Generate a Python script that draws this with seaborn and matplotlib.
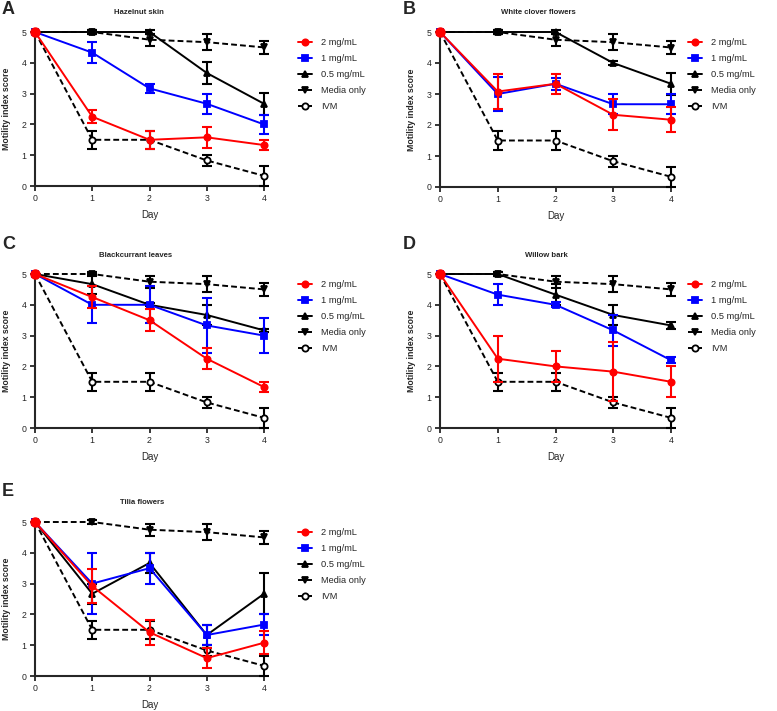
import pandas as pd
import seaborn as sns
import matplotlib.pyplot as plt

# %% DATA (mean motility score +/- error)

days = [0, 1, 2, 3, 4]
series_labels = ['2 mg/mL', '1 mg/mL', '0.5 mg/mL', 'Media only', 'IVM']
panel_letters = ['A', 'B', 'C', 'D', 'E']
panel_titles = ['Hazelnut skin', 'White clover flowers', 'Blackcurrant leaves',
                'Willow bark', 'Tilia flowers']

# controls are shared by every panel
media_mean = [5, 5, 4.75, 4.67, 4.5]
media_err = [0, 0.05, 0.2, 0.25, 0.2]
ivm_mean = [5, 1.5, 1.5, 0.83, 0.33]
ivm_err = [0, 0.3, 0.3, 0.17, 0.33]

# extract doses: 2, 1, 0.5 mg/mL
hazelnut_mean = [[5, 2.25, 1.5, 1.58, 1.33], [5, 4.33, 3.17, 2.67, 2.0], [5, 5, 5, 3.67, 2.67]]
hazelnut_err = [[0, 0.22, 0.3, 0.35, 0.17], [0, 0.35, 0.15, 0.33, 0.3], [0, 0.05, 0.05, 0.35, 0.35]]

clover_mean = [[5, 3.08, 3.33, 2.33, 2.17], [5, 3.0, 3.33, 2.67, 2.67], [5, 5, 5, 4.0, 3.33]]
clover_err = [[0, 0.55, 0.33, 0.5, 0.4], [0, 0.55, 0.2, 0.33, 0.33], [0, 0.05, 0.05, 0.05, 0.35]]

blackcurrant_mean = [[5, 4.25, 3.5, 2.25, 1.33], [5, 4.0, 4.0, 3.33, 3.0], [5, 4.67, 4.0, 3.67, 3.17]]
blackcurrant_err = [[0, 0.35, 0.35, 0.35, 0.17], [0, 0.6, 0.6, 0.88, 0.58], [0, 0.33, 0.05, 0.33, 0.05]]

willow_mean = [[5, 2.25, 2.0, 1.83, 1.5], [5, 4.33, 4.0, 3.17, 2.2], [5, 5, 4.33, 3.67, 3.33]]
willow_err = [[0, 0.75, 0.5, 0.95, 0.5], [0, 0.33, 0.08, 0.5, 0.1], [0, 0.05, 0.33, 0.33, 0.1]]

tilia_mean = [[5, 2.92, 1.42, 0.58, 1.08], [5, 3.0, 3.5, 1.33, 1.67], [5, 2.67, 3.67, 1.33, 2.67]]
tilia_err = [[0, 0.55, 0.4, 0.33, 0.38], [0, 1.0, 0.5, 0.33, 0.33], [0, 0.33, 0.33, 0.33, 0.67]]

panel_means = [hazelnut_mean, clover_mean, blackcurrant_mean, willow_mean, tilia_mean]
panel_errs = [hazelnut_err, clover_err, blackcurrant_err, willow_err, tilia_err]

# %% STYLE

sns.set_style('ticks')
plt.rcParams['font.family'] = ['Liberation Sans', 'DejaVu Sans']
plt.rcParams['axes.linewidth'] = 1.5

colors = ['#ff0000', '#0000ff', 'black', 'black', 'black']
markers = ['o', 's', '^', 'v', 'o']
marker_sizes = [4.5, 4.5, 4, 4, 4.5]
dashed = (0, (3.0, 1.6))
linestyles = ['-', '-', '-', dashed, dashed]

W, H = 777, 711
# axes boxes in pixels: left, top, right, bottom
boxes = [(35, 32, 264, 186), (440, 32, 671, 187),
         (35, 274, 264, 428), (440, 274, 671, 428),
         (35, 522, 264, 676)]
letter_pos = [(2, 1), (403, 1), (2, 236), (403, 236), (2, 483)]
title_x = [139, 538, 136, 546, 142]

# %% PLOT

fig = plt.figure(figsize=(W / 100, H / 100), dpi=100)

for i, (l, t, r, b) in enumerate(boxes):
    ax = fig.add_axes([l / W, 1 - b / H, (r - l) / W, (b - t) / H])
    means = panel_means[i] + [media_mean, ivm_mean]
    errs = panel_errs[i] + [media_err, ivm_err]

    handles = {}
    # draw controls first so the red line ends up on top
    for k in [4, 3, 2, 1, 0]:
        z = 3 + (4 - k) * 0.1
        df = pd.DataFrame({'Day': days, 'Score': means[k], 'Err': errs[k]})
        sub = df[df['Err'] > 0]
        ax.errorbar(sub['Day'], sub['Score'], yerr=sub['Err'], fmt='none',
                    ecolor=colors[k], elinewidth=1.5, capsize=3.4, capthick=1.5,
                    clip_on=False, zorder=z)
        sns.lineplot(
            data=df, x='Day', y='Score', ax=ax,
            color=colors[k], marker=markers[k], linestyle=linestyles[k],
            lw=1.4, markersize=marker_sizes[k],
            markeredgecolor=colors[k], markeredgewidth=1.3,
            markerfacecolor='white' if k == 4 else colors[k],
            errorbar=None, clip_on=False, zorder=z + 0.05,
            label=series_labels[k], legend=False,
        )
        handles[k] = ax.lines[-1]

    # day-0 start point, drawn as a larger red dot on top of everything
    ax.plot(days[0], means[0][0], marker='o', ms=6.5, color=colors[0],
            clip_on=False, zorder=5)

    ax.set(xlim=(0, 4), ylim=(0, 5))
    ax.set_xticks(days)
    ax.set_yticks([0, 1, 2, 3, 4, 5])
    ax.tick_params(labelsize=6.3, width=1.3, length=3.5, pad=2.5)
    ax.set_xlabel('Day', fontsize=7)
    ax.set_ylabel('Motility index score', fontsize=6.3, fontweight='bold')
    ax.xaxis.set_label_coords(0.5, -24 / (b - t))
    ax.xaxis.label.set_va('top')
    ax.yaxis.set_label_coords(-24 / (r - l), 0.5)
    sns.despine(ax=ax)

    fig.text(title_x[i] / W, 1 - (t - 19) / H, panel_titles[i],
             ha='center', va='center', fontsize=5.6, fontweight='bold')
    fig.text(letter_pos[i][0] / W, 1 - letter_pos[i][1] / H, panel_letters[i],
             ha='left', va='top', fontsize=13, fontweight='bold')

    lx = 298 if l < 300 else 688
    ax.legend(
        [handles[k] for k in range(5)], series_labels,
        loc='upper left', bbox_to_anchor=(lx / W, 1 - (t + 6) / H),
        bbox_transform=fig.transFigure, frameon=False, fontsize=6.7,
        handlelength=1.5, handletextpad=1.0, labelspacing=0.75,
        borderpad=0, borderaxespad=0,
    )

fig.savefig('out.png', dpi=100)
